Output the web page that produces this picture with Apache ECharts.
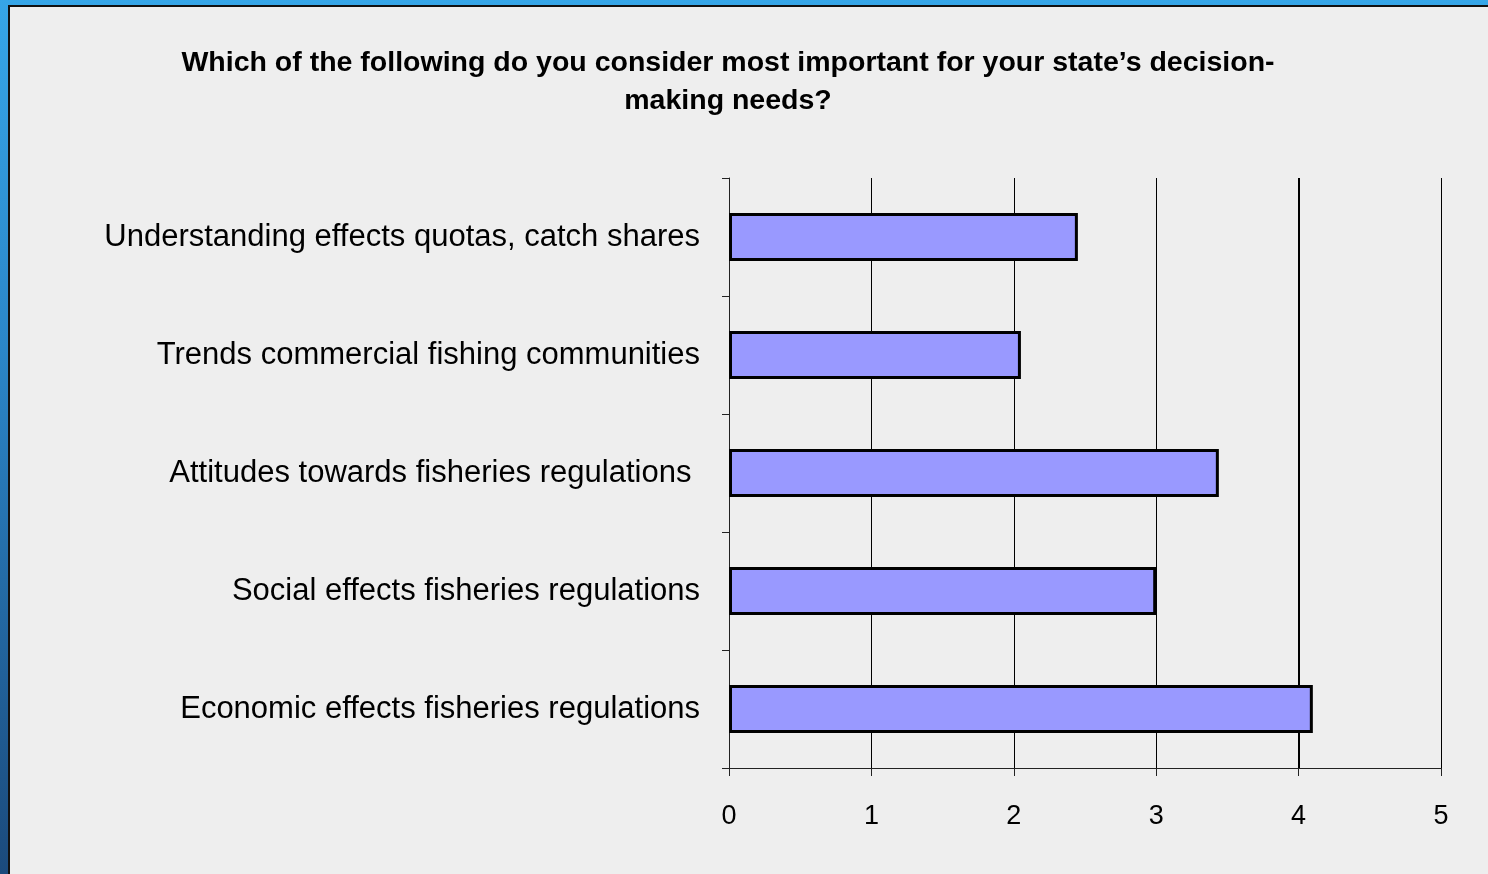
<!DOCTYPE html>
<html>
<head>
<meta charset="utf-8">
<script src="https://cdn.jsdelivr.net/npm/echarts@6/dist/echarts.min.js"></script>
<style>
html,body{margin:0;padding:0;width:1488px;height:874px;overflow:hidden;}
body{background:linear-gradient(to bottom,#36a6e8 0%,#2b86c8 40%,#1b4a7c 100%);}
#frame{position:absolute;left:8px;top:5px;width:1478px;height:867px;background:#eeeeee;border-left:2px solid #111;border-top:2px solid #111;}
#chart{position:absolute;left:0;top:0;width:1488px;height:874px;}
</style>
</head>
<body>
<div id="frame"></div>
<div id="chart"></div>
<script>
const categories = [
  "Understanding effects quotas, catch shares",
  "Trends commercial fishing communities",
  "Attitudes towards fisheries regulations ",
  "Social effects fisheries regulations",
  "Economic effects fisheries regulations"
];
const values = [2.45, 2.05, 3.44, 3.0, 4.1];
const xTicks = [0, 1, 2, 3, 4, 5];
const titleLines = [
  "Which of the following do you consider most important for your state\u2019s decision-",
  "making needs?"
];

const chart = echarts.init(document.getElementById('chart'), null, {renderer: 'canvas'});
const FONT = '"Liberation Sans", Arial, sans-serif';
chart.setOption({
  backgroundColor: 'transparent',
  animation: false,
  graphic: [{
    type: 'text',
    x: 728, y: 44,
    style: {
      text: titleLines.join('\n'),
      textAlign: 'center',
      fill: '#000',
      font: 'bold 28.5px ' + FONT,
      lineHeight: 38
    }
  }],
  grid: {left: 729, right: 47, top: 178, bottom: 106, containLabel: false},
  xAxis: {
    type: 'value',
    min: xTicks[0], max: xTicks[xTicks.length - 1], interval: 1,
    axisLine: {show: true, lineStyle: {color: '#222', width: 1}},
    axisTick: {show: true, length: 8, lineStyle: {color: '#222', width: 1}},
    splitLine: {show: true, lineStyle: {color: '#000', width: 1}},
    axisLabel: {color: '#000', fontSize: 27, fontFamily: FONT, margin: 35}
  },
  yAxis: {
    type: 'category',
    data: categories,
    inverse: true,
    axisLine: {show: true, lineStyle: {color: '#222', width: 1}},
    axisTick: {show: true, length: 7, alignWithLabel: false, lineStyle: {color: '#222', width: 1}},
    axisLabel: {color: '#000', fontSize: 31, fontFamily: FONT, margin: 29}
  },
  series: [{
    type: 'bar',
    data: values,
    barWidth: 48,
    z: 3,
    itemStyle: {color: '#9999ff', borderColor: '#000', borderWidth: 3},
    markLine: {
      silent: true,
      z: 1,
      symbol: ['none', 'none'],
      label: {show: false},
      lineStyle: {color: '#000', width: 2, type: 'solid'},
      data: [{xAxis: 4}]
    }
  }]
});
</script>
</body>
</html>
